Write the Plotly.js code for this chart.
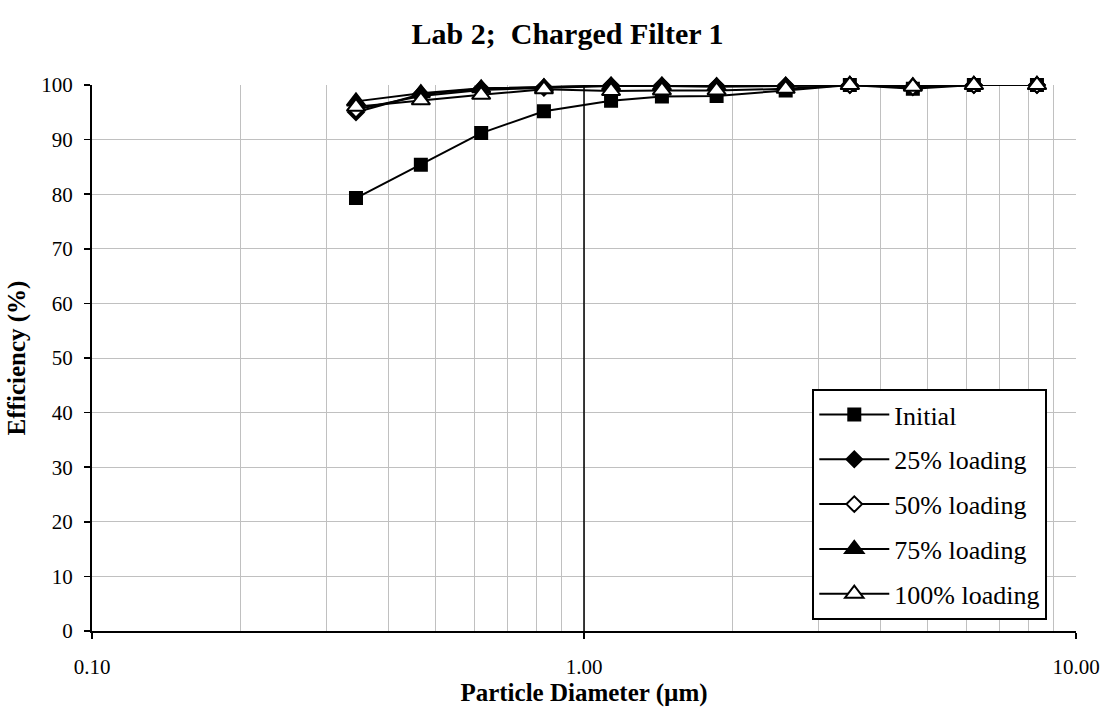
<!DOCTYPE html>
<html>
<head>
<meta charset="utf-8">
<script src="https://cdn.plot.ly/plotly-3.0.1.min.js"></script>
<style>
  html, body { margin: 0; padding: 0; background: #fff; }
  #chart { width: 1102px; height: 707px; }
</style>
</head>
<body>
<div id="chart"></div>
<script>
// Particle diameter channels (µm)
const diameters = [0.344, 0.466, 0.618, 0.829, 1.135, 1.44, 1.86, 2.57, 3.47, 4.66, 6.20, 8.33];

// Collection efficiency (%) at each loading stage
const effInitial = [79.3, 85.4, 91.2, 95.2, 97.1, 97.9, 98.0, 99.0, 100, 99.3, 100, 100];
const eff25 = [95.0, 98.3, 99.3, 99.6, 99.9, 99.9, 99.8, 99.9, 100, 99.7, 100, 100];
const eff50 = [95.5, 98.0, 99.1, 99.5, 99.8, 99.8, 99.7, 99.8, 100, 99.6, 100, 100];
const eff75 = [97.0, 98.5, 99.4, 99.6, 99.9, 99.9, 99.8, 99.9, 100, 99.8, 100, 100];
const eff100 = [96.0, 97.2, 98.2, 99.2, 98.9, 99.0, 99.0, 99.3, 100, 99.7, 100, 100];

const seriesNames = ['Initial', '25% loading', '50% loading', '75% loading', '100% loading'];

// Axis ticks
const xTickVals = [0.1, 1, 10];
const xTickText = ['0.10', '1.00', '10.00'];
const yTickVals = [0, 10, 20, 30, 40, 50, 60, 70, 80, 90, 100];
const referenceDiameter = 1;

const FONT = 'Liberation Serif, Times New Roman, serif';

function series(name, y, symbol, fill, size) {
  return {
    type: 'scatter',
    mode: 'lines+markers',
    name: name,
    legendgroup: name,
    x: diameters,
    y: y,
    cliponaxis: false,
    line: { color: '#000', width: 2 },
    marker: { symbol: symbol, size: size, color: fill, line: { color: '#000', width: 2 } }
  };
}

const traces = [
  series(seriesNames[0], effInitial, 'square', '#000', 12),
  series(seriesNames[1], eff25, 'diamond', '#000', 12),
  series(seriesNames[2], eff50, 'diamond', '#fff', 12),
  series(seriesNames[3], eff75, 'triangle-up', '#000', 16),
  series(seriesNames[4], eff100, 'triangle-up', '#fff', 16)
];

const layout = {
  width: 1102,
  height: 707,
  paper_bgcolor: '#fff',
  plot_bgcolor: '#fff',
  font: { family: FONT, color: '#000', size: 21 },
  margin: { l: 92, r: 26, t: 85, b: 76 },
  title: {
    text: '<b>Lab 2;  Charged Filter 1</b>',
    font: { family: FONT, size: 30, color: '#000' },
    xref: 'container', x: 0.515, xanchor: 'center',
    yref: 'container', y: 0.952, yanchor: 'middle'
  },
  xaxis: {
    type: 'log',
    range: [-1, 1],
    tickvals: xTickVals,
    ticktext: xTickText,
    ticks: 'outside',
    ticklen: 6,
    tickwidth: 1.5,
    tickcolor: '#000',
    ticklabelstandoff: 10,
    showline: true,
    linecolor: '#000',
    linewidth: 2,
    showgrid: true,
    gridcolor: '#c0c0c0',
    gridwidth: 1,
    zeroline: false,
    minor: { dtick: 'D1', showgrid: true, gridcolor: '#c0c0c0', gridwidth: 1, ticks: '' },
    tickfont: { family: FONT, size: 21, color: '#000' },
    title: { text: '<b>Particle Diameter (µm)</b>', font: { family: FONT, size: 25, color: '#000' }, standoff: 4 }
  },
  yaxis: {
    range: [0, 100],
    tickvals: yTickVals,
    ticks: 'outside',
    ticklen: 6,
    tickwidth: 1.5,
    tickcolor: '#000',
    ticklabelstandoff: 7,
    showline: true,
    linecolor: '#000',
    linewidth: 2,
    showgrid: true,
    gridcolor: '#c0c0c0',
    gridwidth: 1,
    zeroline: false,
    tickfont: { family: FONT, size: 21, color: '#000' },
    title: { text: '<b>Efficiency (%)</b>', font: { family: FONT, size: 25, color: '#000' }, standoff: 9 }
  },
  shapes: [
    {
      type: 'line', xref: 'x', yref: 'paper',
      x0: referenceDiameter, x1: referenceDiameter, y0: 0, y1: 1,
      line: { color: '#000', width: 1.5 }, layer: 'above'
    }
  ],
  legend: {
    x: 0.732, y: 0.443, xanchor: 'left', yanchor: 'top',
    bgcolor: '#fff',
    bordercolor: '#000',
    borderwidth: 2,
    traceorder: 'grouped',
    tracegroupgap: 8,
    itemwidth: 70,
    font: { family: FONT, size: 26, color: '#000' }
  },
  showlegend: true
};

Plotly.newPlot('chart', traces, layout, { displayModeBar: false, staticPlot: true });
</script>
</body>
</html>
